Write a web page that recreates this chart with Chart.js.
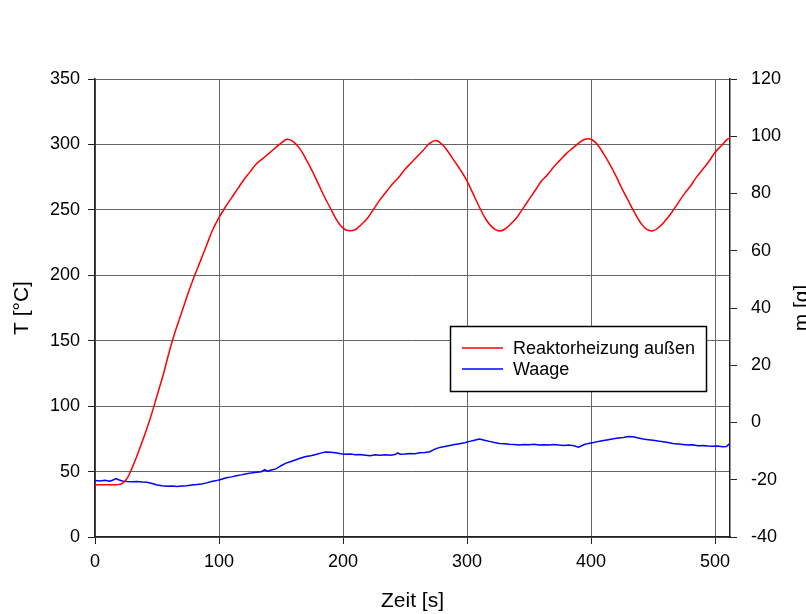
<!DOCTYPE html>
<html>
<head>
<meta charset="utf-8">
<script src="https://cdn.jsdelivr.net/npm/chart.js@4/dist/chart.umd.min.js"></script>
<style>
  html, body { margin: 0; padding: 0; background: #fff; overflow: hidden; }
  canvas { display: block; }
</style>
</head>
<body>
<canvas id="chart" width="806" height="614"></canvas>
<script>
// Reactor outer heater temperature [°C] over time [s]
const heaterTime = [0, 10, 18, 22, 26, 30, 35, 40, 45, 50, 55, 60, 65, 70, 75, 80, 85, 90, 95, 100,
  105, 110, 115, 120, 125, 130, 135, 140, 145, 150, 155, 160, 165, 170, 175, 180, 185, 190, 195, 200,
  205, 210, 215, 220, 225, 230, 235, 240, 245, 250, 255, 260, 265, 270, 275, 280, 285, 290, 295, 300,
  305, 310, 315, 320, 325, 330, 335, 340, 345, 350, 355, 360, 365, 370, 375, 380, 385, 390, 395, 400,
  405, 410, 415, 420, 425, 430, 435, 440, 445, 450, 455, 460, 465, 470, 475, 480, 485, 490, 495, 500,
  505, 510, 513];
const heaterTemp = [40, 40, 40, 41, 45, 53, 65, 78, 92, 108, 124, 142, 158, 172, 186, 199, 211, 223, 235, 244,
  252, 259, 266, 273, 279, 285, 289, 293, 297, 301, 304, 302, 297, 289, 280, 270, 260, 251, 242, 236,
  234, 235, 239, 244, 251, 258, 264, 270, 275, 281, 286, 291, 296, 301, 303, 300, 294, 287, 280, 272,
  262, 252, 243, 237, 234, 235, 239, 244, 251, 258, 265, 272, 277, 283, 288, 293, 297, 301, 304, 304,
  300, 293, 285, 276, 266, 257, 248, 240, 235, 234, 237, 242, 248, 255, 262, 268, 275, 281, 287, 294,
  299, 304, 305];

// Balance reading [g] over time [s]
const balanceTime = [0, 4, 8, 12, 15, 17, 19, 22, 26, 30, 34, 38, 42, 46, 50, 54, 58, 62, 66, 70,
  74, 78, 82, 86, 90, 94, 98, 102, 106, 110, 114, 118, 122, 126, 130, 134, 137, 139, 142, 146,
  150, 154, 158, 162, 166, 170, 174, 178, 182, 186, 190, 194, 198, 202, 206, 210, 214, 218, 222, 226,
  230, 234, 238, 242, 244, 246, 250, 254, 258, 262, 266, 270, 274, 278, 282, 286, 290, 294, 298, 302,
  306, 310, 314, 318, 322, 326, 330, 334, 338, 342, 346, 350, 354, 358, 362, 366, 370, 374, 378, 382,
  386, 390, 394, 398, 402, 406, 410, 414, 418, 422, 426, 430, 434, 438, 442, 446, 450, 454, 458, 462,
  466, 470, 474, 478, 482, 486, 490, 494, 498, 502, 506, 509, 512];
const balanceMass = [-20.3, -20.4, -20.2, -20.5, -20.0, -19.6, -20.0, -20.4, -20.6, -20.7, -20.6, -20.8, -20.9, -21.3, -21.8, -22.1, -22.3, -22.2, -22.4, -22.2,
  -22.1, -21.8, -21.7, -21.5, -21.1, -20.6, -20.3, -19.8, -19.3, -19.0, -18.6, -18.3, -17.9, -17.6, -17.4, -17.2, -16.5, -17.0, -16.6, -16.2,
  -15.1, -14.2, -13.6, -13.0, -12.4, -11.9, -11.6, -11.2, -10.7, -10.3, -10.4, -10.6, -10.9, -11.1, -11.0, -11.3, -11.2, -11.4, -11.6, -11.3,
  -11.4, -11.3, -11.4, -11.2, -10.6, -11.1, -11.0, -10.8, -10.9, -10.6, -10.5, -10.2, -9.3, -8.7, -8.4, -8.0, -7.7, -7.4, -7.1, -6.6,
  -6.2, -5.8, -6.2, -6.6, -7.0, -7.3, -7.4, -7.6, -7.7, -7.9, -7.7, -7.8, -7.6, -7.9, -7.8, -7.9, -7.7, -7.9, -8.0, -7.9,
  -8.1, -8.6, -7.8, -7.3, -7.0, -6.6, -6.3, -6.0, -5.7, -5.4, -5.2, -4.9, -5.0, -5.4, -5.8, -6.0, -6.2, -6.5, -6.7, -7.0,
  -7.3, -7.5, -7.7, -7.9, -7.8, -8.1, -8.0, -8.2, -8.3, -8.2, -8.5, -8.4, -7.3];

// Axis tick values
const timeTicks = [0, 100, 200, 300, 400, 500];
const tempTicks = [0, 50, 100, 150, 200, 250, 300, 350];
const massTicks = [-40, -20, 0, 20, 40, 60, 80, 100, 120];

const seriesLabels = ['Reaktorheizung außen', 'Waage'];

const FONT = 'Liberation Sans, Arial, sans-serif';
const GRID = '#666666';
const AXIS = '#222222';

const toPoints = (xs, ys) => xs.map((x, i) => ({ x, y: ys[i] }));
const fixedTicks = values => scale => { scale.ticks = values.map(v => ({ value: v })); };

// Boxed legend inside the plot plus the rotated right-axis title
const decorations = {
  id: 'decorations',
  afterDraw(chart) {
    const ctx = chart.ctx;
    const area = chart.chartArea;
    ctx.save();

    // legend
    const bx = 450.5, by = 326.5, bw = 256, bh = 65;
    ctx.fillStyle = '#ffffff';
    ctx.fillRect(bx, by, bw, bh);
    ctx.strokeStyle = '#000000';
    ctx.lineWidth = 1.5;
    ctx.strokeRect(bx, by, bw, bh);
    ctx.font = '18px ' + FONT;
    ctx.textBaseline = 'middle';
    ctx.textAlign = 'left';
    chart.data.datasets.forEach((ds, i) => {
      const y = 348 + i * 21;
      ctx.strokeStyle = ds.borderColor;
      ctx.lineWidth = 1.5;
      ctx.beginPath();
      ctx.moveTo(462, y);
      ctx.lineTo(503, y);
      ctx.stroke();
      ctx.fillStyle = '#000000';
      ctx.fillText(ds.label, 513, y + 1);
    });

    // right axis title, reading bottom to top
    ctx.translate(808, (area.top + area.bottom) / 2);
    ctx.rotate(-Math.PI / 2);
    ctx.font = '21px ' + FONT;
    ctx.textAlign = 'center';
    ctx.textBaseline = 'alphabetic';
    ctx.fillStyle = '#000000';
    ctx.fillText('m [g]', 0, 0);
    ctx.restore();
  }
};

new Chart(document.getElementById('chart'), {
  type: 'line',
  data: {
    datasets: [
      {
        label: seriesLabels[0],
        data: toPoints(heaterTime, heaterTemp),
        yAxisID: 'y',
        borderColor: '#ff0000',
        borderWidth: 1.5,
        pointRadius: 0,
        tension: 0.4,
        fill: false
      },
      {
        label: seriesLabels[1],
        data: toPoints(balanceTime, balanceMass),
        yAxisID: 'y2',
        borderColor: '#0000ff',
        borderWidth: 1.5,
        pointRadius: 0,
        tension: 0,
        fill: false
      }
    ]
  },
  options: {
    responsive: false,
    animation: false,
    devicePixelRatio: 1,
    layout: { padding: { top: 79, left: 0, right: 0, bottom: 0 } },
    plugins: {
      legend: { display: false },
      tooltip: { enabled: false }
    },
    scales: {
      x: {
        type: 'linear',
        position: 'bottom',
        min: 0,
        max: 512,
        afterBuildTicks: fixedTicks(timeTicks),
        afterFit(scale) { scale.height = 77; },
        grid: { color: GRID, lineWidth: 1, tickColor: AXIS, tickLength: 7 },
        border: { color: AXIS, width: 1.5 },
        ticks: { color: '#000', font: { family: FONT, size: 18 }, padding: 7, maxRotation: 0 },
        title: { display: true, text: 'Zeit [s]', color: '#000', font: { family: FONT, size: 21 }, padding: { top: 0, bottom: 0 } }
      },
      y: {
        type: 'linear',
        position: 'left',
        min: 0,
        max: 350,
        afterBuildTicks: fixedTicks(tempTicks),
        afterFit(scale) { scale.width = 95; },
        grid: { color: GRID, lineWidth: 1, tickColor: AXIS, tickLength: 7 },
        border: { color: AXIS, width: 1.5 },
        ticks: { color: '#000', font: { family: FONT, size: 18 }, padding: 8 },
        title: { display: true, text: 'T [°C]', color: '#000', font: { family: FONT, size: 21 }, padding: { top: 10, bottom: 0 } }
      },
      y2: {
        type: 'linear',
        position: 'right',
        min: -40,
        max: 120,
        afterBuildTicks: fixedTicks(massTicks),
        afterFit(scale) { scale.width = 76; },
        grid: { drawOnChartArea: false, tickColor: AXIS, tickLength: 7 },
        border: { color: AXIS, width: 1.5 },
        ticks: { color: '#000', font: { family: FONT, size: 18 }, padding: 14 }
      }
    }
  },
  plugins: [decorations]
});
</script>
</body>
</html>
